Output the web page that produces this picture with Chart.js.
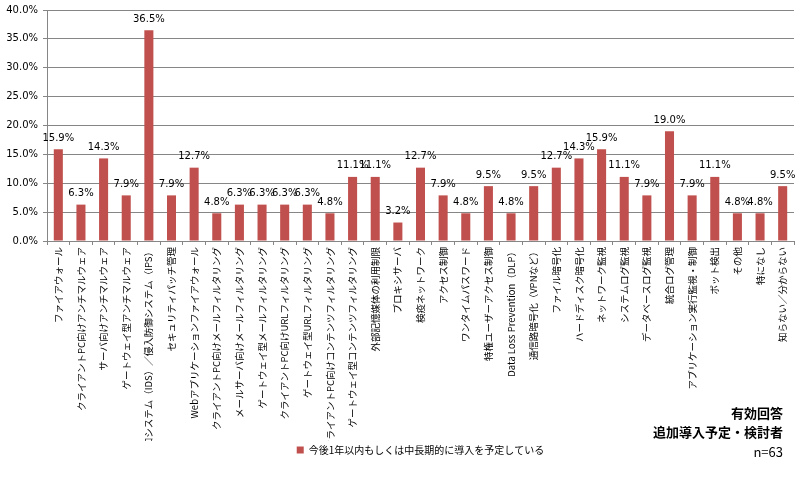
<!DOCTYPE html>
<html>
<head>
<meta charset="utf-8">
<script src="https://cdn.jsdelivr.net/npm/chart.js@4.4.1/dist/chart.umd.min.js"></script>
<style>
  html, body { margin: 0; padding: 0; background: #fff; }
  #wrap { width: 800px; height: 484px; }
</style>
</head>
<body>
<div id="wrap"><canvas id="chart" width="800" height="484"></canvas></div>
<script>
const categories = [
  'ファイアウォール',
  'クライアントPC向けアンチマルウェア',
  'サーバ向けアンチマルウェア',
  'ゲートウェイ型アンチマルウェア',
  '侵入検知システム（IDS）／侵入防御システム（IPS）',
  'セキュリティパッチ管理',
  'Webアプリケーションファイアウォール',
  'クライアントPC向けメールフィルタリング',
  'メールサーバ向けメールフィルタリング',
  'ゲートウェイ型メールフィルタリング',
  'クライアントPC向けURLフィルタリング',
  'ゲートウェイ型URLフィルタリング',
  'クライアントPC向けコンテンツフィルタリング',
  'ゲートウェイ型コンテンツフィルタリング',
  '外部記憶媒体の利用制限',
  'プロキシサーバ',
  '検疫ネットワーク',
  'アクセス制御',
  'ワンタイムパスワード',
  '特権ユーザーアクセス制御',
  'Data Loss Prevention（DLP）',
  '通信路暗号化（VPNなど）',
  'ファイル暗号化',
  'ハードディスク暗号化',
  'ネットワーク監視',
  'システムログ監視',
  'データベースログ監視',
  '統合ログ管理',
  'アプリケーション実行監視・制御',
  'ボット検出',
  'その他',
  '特になし',
  '知らない／分からない'
];
const planned = [
  15.9, 6.3, 14.3, 7.9, 36.5, 7.9, 12.7, 4.8, 6.3, 6.3, 6.3,
  6.3, 4.8, 11.1, 11.1, 3.2, 12.7, 7.9, 4.8, 9.5, 4.8, 9.5,
  12.7, 14.3, 15.9, 11.1, 7.9, 19.0, 7.9, 11.1, 4.8, 4.8, 9.5
];
const seriesName = '今後1年以内もしくは中長期的に導入を予定している';
const yTicks = [0, 5, 10, 15, 20, 25, 30, 35, 40];
const noteLines = ['有効回答', '追加導入予定・検討者', 'n=63'];

// 棒の上に値ラベル
const valueLabels = {
  id: 'valueLabels',
  afterDatasetsDraw(chart) {
    const ctx = chart.ctx;
    const meta = chart.getDatasetMeta(0);
    ctx.save();
    ctx.font = '10px "DejaVu Sans"';
    ctx.fillStyle = '#000';
    ctx.textAlign = 'center';
    ctx.textBaseline = 'bottom';
    meta.data.forEach((bar, i) => {
      ctx.fillText(planned[i].toFixed(1) + '%', bar.x, bar.y - 6);
    });
    ctx.restore();
  }
};

// 右下の注記
const notes = {
  id: 'notes',
  afterDraw(chart) {
    const ctx = chart.ctx;
    ctx.save();
    ctx.fillStyle = '#000';
    ctx.textAlign = 'right';
    ctx.textBaseline = 'middle';
    ctx.font = 'bold 13px "Noto Sans CJK JP"';
    ctx.fillText(noteLines[0], 783, 413);
    ctx.fillText(noteLines[1], 783, 432);
    ctx.font = '13px "Noto Sans CJK JP"';
    ctx.fillText(noteLines[2], 783, 452);
    ctx.restore();
  }
};

new Chart(document.getElementById('chart'), {
  type: 'bar',
  data: {
    labels: categories,
    datasets: [{
      label: seriesName,
      data: planned,
      backgroundColor: '#C0504D',
      borderWidth: 0,
      categoryPercentage: 0.8,
      barPercentage: 0.5
    }]
  },
  options: {
    responsive: false,
    animation: false,
    devicePixelRatio: 1,
    layout: { padding: { top: 1, right: 6, left: 0, bottom: 19 } },
    plugins: {
      legend: {
        position: 'bottom',
        fullSize: false,
        labels: {
          boxWidth: 7,
          boxHeight: 7,
          padding: 4,
          color: '#000',
          font: { family: '"Noto Sans CJK JP"', size: 10 }
        }
      },
      tooltip: { enabled: false }
    },
    scales: {
      x: {
        grid: {
          display: true,
          drawOnChartArea: false,
          drawTicks: true,
          tickLength: 4,
          offset: true,
          color: '#868686'
        },
        border: { color: '#868686' },
        ticks: {
          autoSkip: false,
          maxRotation: 90,
          minRotation: 90,
          padding: 2,
          color: '#000',
          font: { family: '"Noto Sans CJK JP"', size: 9.5 }
        },
        afterFit(s) { s.height = 200; }
      },
      y: {
        min: 0,
        max: 40,
        afterBuildTicks(s) { s.ticks = yTicks.map(v => ({ value: v })); },
        grid: {
          color: '#868686',
          drawTicks: true,
          tickLength: 4
        },
        border: { color: '#868686' },
        ticks: {
          padding: 5,
          color: '#000',
          font: { family: '"DejaVu Sans"', size: 10, lineHeight: 1 },
          callback: v => v.toFixed(1) + '%'
        },
        afterFit(s) { s.width = 47; }
      }
    }
  },
  plugins: [valueLabels, notes]
});
</script>
</body>
</html>
